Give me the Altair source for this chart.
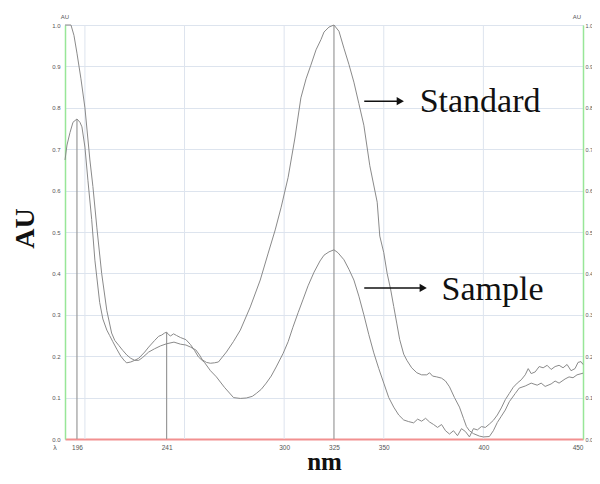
import altair as alt
import pandas as pd

# ---- data ----
std_nm = [190, 191, 193, 194.5, 196, 198, 200, 202.5, 204, 206, 208.4, 211, 213.4, 215, 217, 219, 221, 223,
          225, 227, 229, 232, 235, 238, 241, 244.7, 248, 250.7, 253, 255.7, 257.5, 259, 261, 263, 265, 267,
          271, 274.5, 278, 283, 288, 292, 295.5, 298.5, 302, 305.4, 308.4, 311, 313.4, 316, 318.5, 320, 322.5,
          325, 327.5, 330, 332.5, 335, 337.5, 340, 343, 346.7, 348, 350, 351.7, 353.5, 355, 356.5, 358, 360,
          361.6, 364, 366.6, 369, 371.6, 373, 374.5, 376.6, 379, 381, 383, 385.5, 388, 390, 391.5, 393, 395,
          398, 400, 403, 405, 407, 409, 411, 413, 416, 418, 421, 424, 427, 429, 431, 434, 436, 438, 441, 443,
          445, 447, 450]
std_au = [1.0, 1.0, 1.0, 0.975, 0.932, 0.87, 0.80, 0.674, 0.61, 0.51, 0.40, 0.31, 0.256, 0.238, 0.226, 0.214,
          0.203, 0.195, 0.19, 0.19, 0.197, 0.21, 0.218, 0.225, 0.23, 0.234, 0.229, 0.227, 0.222, 0.215, 0.203,
          0.191, 0.185, 0.183, 0.184, 0.186, 0.21, 0.235, 0.263, 0.319, 0.384, 0.449, 0.505, 0.56, 0.632, 0.727,
          0.824, 0.87, 0.903, 0.94, 0.965, 0.983, 0.995, 1.0, 0.985, 0.944, 0.905, 0.862, 0.81, 0.758, 0.66,
          0.572, 0.49, 0.45, 0.40, 0.36, 0.32, 0.28, 0.24, 0.205, 0.19, 0.172, 0.16, 0.155, 0.155, 0.16, 0.152,
          0.15, 0.147, 0.14, 0.126, 0.10, 0.077, 0.05, 0.03, 0.02, 0.013, 0.007, 0.005, 0.006, 0.02, 0.04,
          0.055, 0.07, 0.09, 0.11, 0.123, 0.128, 0.135, 0.13, 0.135, 0.127, 0.133, 0.14, 0.135, 0.145, 0.15,
          0.148, 0.155, 0.159]

smp_nm = [190, 191, 192.5, 194, 196, 197.5, 198.5, 200, 201.5, 203.4, 205, 207.4, 209, 211, 212.4, 214, 216,
          218, 220, 221, 223, 225, 227, 230, 232, 235, 237, 238.5, 240, 241, 242, 243, 244.5, 246, 248, 250.7,
          253, 255, 257, 260, 263, 266, 270, 274.6, 278, 281, 284, 286, 288.5, 291, 293.5, 296, 299.5, 302,
          304.4, 307, 309.4, 312, 315, 318, 320, 322.5, 325, 327, 330, 332.5, 335, 337.5, 340, 342.5, 345,
          347.5, 350, 352.5, 355, 357.5, 360, 362.5, 365, 367, 369, 371, 373, 375, 377, 379, 381, 383, 385, 387,
          389, 391, 393, 395, 397, 399, 401, 403, 405, 407, 409, 411, 413, 415, 417, 419, 421, 422.5, 424, 426,
          428, 430, 432, 434, 436, 438, 440, 442, 444, 446, 447.5, 449, 450]
smp_au = [0.674, 0.71, 0.74, 0.765, 0.773, 0.765, 0.754, 0.705, 0.625, 0.53, 0.432, 0.33, 0.29, 0.263, 0.25,
          0.235, 0.217, 0.2, 0.188, 0.184, 0.186, 0.19, 0.195, 0.21, 0.222, 0.238, 0.248, 0.251, 0.256, 0.258,
          0.252, 0.249, 0.254, 0.25, 0.245, 0.24, 0.228, 0.214, 0.198, 0.185, 0.165, 0.15, 0.125, 0.10, 0.098,
          0.099, 0.103, 0.11, 0.12, 0.135, 0.152, 0.174, 0.207, 0.235, 0.27, 0.305, 0.336, 0.37, 0.403, 0.43,
          0.444, 0.452, 0.457, 0.45, 0.433, 0.41, 0.384, 0.345, 0.30, 0.252, 0.208, 0.17, 0.135, 0.10, 0.077,
          0.058, 0.046, 0.042, 0.039, 0.048, 0.043, 0.05, 0.041, 0.035, 0.028, 0.035, 0.02, 0.012, 0.02, 0.008,
          0.025, 0.018, 0.005, 0.025, 0.022, 0.03, 0.028, 0.036, 0.045, 0.058, 0.075, 0.095, 0.11, 0.125, 0.135,
          0.143, 0.155, 0.17, 0.158, 0.162, 0.175, 0.172, 0.178, 0.168, 0.175, 0.178, 0.172, 0.18, 0.165, 0.17,
          0.185, 0.187, 0.18]

x_ticks = [196, 241, 300, 325, 350, 400, 450]
y_ticks = [0.0, 0.1, 0.2, 0.3, 0.4, 0.5, 0.6, 0.7, 0.8, 0.9, 1.0]
grid_x = [200, 250, 300, 350, 400]
marker_x = [196, 241, 325]
marker_top = [0.773, 0.258, 1.0]

labels = ["Standard", "Sample"]
label_x = [368, 379]
label_y = [0.79, 0.336]
arrow_y = [0.816, 0.365]
arrow_x0 = [340.2, 340.2]
arrow_x1 = [357, 368.5]
head_x = [358.3, 369.8]

top_units = ["AU", "AU"]
top_units_x = [190, 447]
lambda_label = ["λ"]
lambda_x = [185]

# ---- tables ----
lines_df = pd.concat([
    pd.DataFrame({"nm": std_nm, "au": std_au, "series": "Standard"}),
    pd.DataFrame({"nm": smp_nm, "au": smp_au, "series": "Sample"}),
])
grid_df = pd.DataFrame({"nm": grid_x, "lo": 0.0, "hi": 1.0})
marker_df = pd.DataFrame({"nm": marker_x, "lo": 0.0, "hi": marker_top})
ann_df = pd.DataFrame({"label": labels, "lx": label_x, "ly": label_y,
                       "ay": arrow_y, "ax0": arrow_x0, "ax1": arrow_x1, "hx": head_x})
units_df = pd.DataFrame({"t": top_units, "nm": top_units_x, "au": 1.0})
lam_df = pd.DataFrame({"t": lambda_label, "nm": lambda_x, "au": 0.0})

xs = alt.Scale(domain=[190, 450], nice=False, zero=False)
ys = alt.Scale(domain=[0, 1], nice=False)

x_axis = alt.Axis(values=x_ticks, title="nm", grid=False, ticks=False, labelFontSize=6.5,
                  labelColor="#555", labelPadding=5, domainColor="#f29090", domainWidth=1.8,
                  titleFont="Liberation Serif", titleFontSize=25, titleFontWeight="bold",
                  titleColor="#111", titleBaseline="alphabetic", titleY=30, labelFont="Arial")
y_left = alt.Axis(values=y_ticks, format=".1f", title="AU", grid=True, gridColor="#dde4ee",
                  gridWidth=1, ticks=False, labelFontSize=6, labelColor="#555", labelPadding=5,
                  domainColor="#98e698", domainWidth=1.5, titleFont="Liberation Serif",
                  titleFontSize=28, titleFontWeight="bold", titleColor="#111",
                  titleBaseline="alphabetic", titleX=-32, titleY=203, labelFont="Arial")
y_right = alt.Axis(values=y_ticks, format=".1f", title=None, grid=False, ticks=False,
                   labelFontSize=5.5, labelColor="#555", labelPadding=2, orient="right",
                   domainColor="#98e698", domainWidth=1.5, labelFont="Arial")


def X(field):
    return alt.X(field, scale=xs, axis=x_axis)


vgrid = alt.Chart(grid_df).mark_rule(color="#dde4ee", strokeWidth=1).encode(
    x=X("nm:Q"),
    y=alt.Y("lo:Q", scale=ys, axis=None), y2="hi:Q")

markers = alt.Chart(marker_df).mark_rule(color="#9a9a9a", strokeWidth=1.2).encode(
    x=X("nm:Q"),
    y=alt.Y("lo:Q", scale=ys, axis=y_right), y2="hi:Q")

lines = alt.Chart(lines_df).mark_line(color="#8a8a8a", strokeWidth=1).encode(
    x=X("nm:Q"),
    y=alt.Y("au:Q", scale=ys, axis=y_left),
    detail="series:N")

arrows = alt.Chart(ann_df).mark_rule(color="#111", strokeWidth=1.5).encode(
    x=X("ax0:Q"), x2="ax1:Q",
    y=alt.Y("ay:Q", scale=ys, axis=None))

heads = alt.Chart(ann_df).mark_point(shape="triangle-right", filled=True, color="#111",
                                     size=70, opacity=1).encode(
    x=X("hx:Q"),
    y=alt.Y("ay:Q", scale=ys, axis=None))

texts = alt.Chart(ann_df).mark_text(align="left", baseline="alphabetic", font="Liberation Serif",
                                    fontSize=34, color="#111").encode(
    x=X("lx:Q"),
    y=alt.Y("ly:Q", scale=ys, axis=None),
    text="label:N")

units = alt.Chart(units_df).mark_text(align="center", baseline="middle", fontSize=6,
                                      color="#555", font="Arial", dy=-8).encode(
    x=X("nm:Q"),
    y=alt.Y("au:Q", scale=ys, axis=None),
    text="t:N")

lam = alt.Chart(lam_df).mark_text(align="center", baseline="middle", fontSize=7,
                                  color="#555", font="Arial", dy=9).encode(
    x=X("nm:Q"),
    y=alt.Y("au:Q", scale=ys, axis=None),
    text="t:N")

chart = alt.layer(vgrid, markers, lines, arrows, heads, texts, units, lam).resolve_axis(
    y="independent"
).properties(
    width=518, height=414,
    autosize=alt.AutoSizeParams(type="none"),
    padding={"left": 57, "top": 17, "right": 9, "bottom": 36},
).configure_view(stroke=None).configure(background="white")

chart.save("out.html", embed_options={"renderer": "svg", "actions": False})
